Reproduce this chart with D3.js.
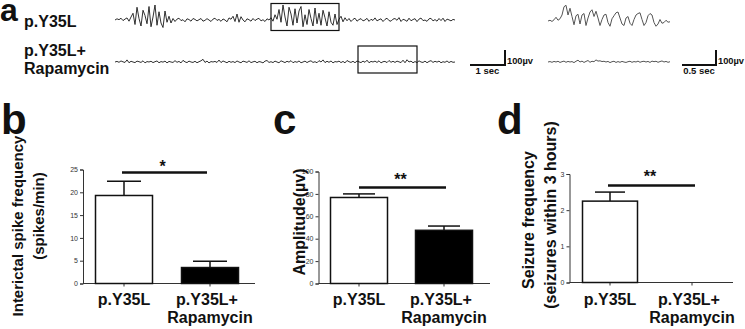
<!DOCTYPE html>
<html lang="en">
<head>
<meta charset="UTF-8">
<script src="https://cdnjs.cloudflare.com/ajax/libs/d3/7.8.5/d3.min.js"></script>
<style>
  body { margin: 0; background: #fff; }
  svg { display: block; font-family: "Liberation Sans", Arial, sans-serif; }
</style>
</head>
<body>
<svg id="fig" width="745" height="329"></svg>
<script>
// ---- panel a: EEG traces (µV) ----
const tracePY35L = [
  0, 8, 2, 12, -4, 6, 14, -8, 20, 45,
  -30, 85, 10, -40, 65, 30, -25, 90, -45, 20,
  100, -35, 55, -20, -50, 60, -15, 25, -20, 10,
  -10, 6, 12, -4, 2, -12, 8, 3, -8, 10,
  4, -6, 2, 10, -8, -2, 9, 0, -10, 6,
  12, -3, 4, -9, 7, 0, -12, 14, 5, 25,
  -10, 40, -15, 22, 0, -12, 8, 2, -8, 10,
  -4, 6, 11, -6, 2, -10, 8, 0, 15, -8,
  35, 5, 70, -15, 100, 20, -40, 85, 40, -35,
  75, -20, 60, 90, -45, 35, -30, 70, 10, -40,
  80, -25, 45, -35, 65, 15, -40, 55, -15, -35,
  40, -30, 5, 25, -12, 15, -5, 10, -10, 4,
  12, -8, 3, 9, -6, 0, 11, -9, 5, -3,
  14, -6, 2, 8, -10, 4, 12, -4, -8, 6,
  10, -2, 16, -10, 5, 0, -9, 12, -5, 3,
  9, -11, 6, 13, -4, 0, -9, 8, 11, -6,
  3, -8, 10, -4, 12, -10, 6, 1, -6, 4, 0
];
const traceRapa = [
  0, 4, -2, 7, 1, -3, 14, -5, 5, 0,
  -4, 6, 2, -3, 8, -6, 3, 0, 5, -4,
  2, 7, -5, 3, -1, 6, -6, 4, 0, -3,
  9, -2, 4, -6, 11, 1, -4, 6, 0, -3,
  5, -5, 2, 8, 18, -3, 6, -6, 3, 0,
  4, -3, 13, -4, 7, 1, -5, 5, -2, 3,
  -4, 7, 0, -5, 6, 2, -3, 8, -4, 1,
  5, -5, 3, 0, -6, 6, 10, -3, 2, -4,
  6, 0, -5, 8, 2, -4, 5, -1, 9, -5,
  3, -2, 7, -5, 0, 6, -4, 4, 8, -3,
  2, -5, 9, 0, 14, -4, 5, -2, 7, -6,
  3, 0, 6, -4, 4, -6, 10, 2, -3, 5,
  -5, 7, 1, -4, 6, -2, 12, -5, 4, 0,
  6, -3, 8, -6, 2, 4, -4, 10, -2, 5,
  -3, 6, 1, -4, 12, -5, 15, 0, 6, -5,
  3, -4, 8, 0, -3, 6, -5, 4, 9, -3,
  5, -1, 6, -5, 2, -2, 7, -4, 4, -2, 0
];
const zoomPY35L = [
  0, 5, -3, 8, 25, 5, 15, 40, 95, 105,
  40, 85, 30, -25, 35, 45, -20, 40, 50, -30,
  20, 60, 75, 30, 65, 20, -30, 10, 40, 45,
  -10, -35, 15, 35, 55, 60, 20, -20, -30, 20,
  30, -15, -30, 10, 40, 50, 55, 10, -30, -10,
  35, 50, 40, -10, -35, -20, 10, -15, -10, 5,
  -8, -5
];
const zoomRapa = [
  0, 3, -2, 4, 0, 5, -3, 2, 6, -2,
  4, 0, 3, -4, 5, 12, 0, 6, -3, 4,
  10, -2, 5, 2, 14, 6, 8, 3, 5, 0,
  4, -4, 2, 5, -3, 3, -2, 4, 0, -3,
  2, 5, -2, 3, 0, 6, -2, 3, 5, 0,
  4, -3, 6, 2, 5, -2, 3, 7, 0, 4,
  -2, 2
];
const boxPY35L = [78, 112];      // sample range shown expanded
const boxRapa = [121.5, 151];
const traceLabels = [['p.Y35L'], ['p.Y35L+', 'Rapamycin']];
const scaleBarLabels = ['1 sec', '0.5 sec'];
const scaleBarValue = '100µv';

// ---- panels b-d: bar charts ----
const categories = [['p.Y35L'], ['p.Y35L+', 'Rapamycin']];
const spikeFreq = [19.3, 3.5];
const spikeFreqErr = [3.1, 1.4];
const spikeTicks = [0, 5, 10, 15, 20, 25];
const amplitude = [76.8, 47.5];
const amplitudeErr = [3.2, 3.8];
const amplitudeTicks = [0, 20, 40, 60, 80, 100];
const seizureFreq = [2.25, 0];
const seizureFreqErr = [0.25, 0];
const seizureTicks = [0, 1, 2, 3];

const svg = d3.select('#fig');
const bold = s => s.attr('font-weight', 'bold').attr('fill', '#111');

// panel letters
svg.append('text').text('a').attr('x', 0).attr('y', 21).attr('font-size', 32).call(bold);
[['b', 1, 134], ['c', 273, 134], ['d', 497, 134]].forEach(p => {
  svg.append('text').text(p[0]).attr('x', p[1]).attr('y', p[2])
    .attr('font-size', 42).call(bold);
});

// trace labels
svg.append('text').text(traceLabels[0][0]).attr('x', 24).attr('y', 27).attr('font-size', 16).call(bold);
traceLabels[1].forEach((t, i) => {
  svg.append('text').text(t).attr('x', 24).attr('y', 56 + i * 18).attr('font-size', 16).call(bold);
});

function drawTrace(data, x0, x1, base, color, width) {
  const x = d3.scaleLinear().domain([0, data.length - 1]).range([x0, x1]);
  const y = d3.scaleLinear().domain([-100, 100]).range([base + 15, base - 15]);
  svg.append('path')
    .attr('d', d3.line().x((d, i) => x(i)).y(d => y(d))(data))
    .attr('fill', 'none').attr('stroke', color).attr('stroke-width', width)
    .attr('stroke-linejoin', 'round');
  return x;
}

const xTop = drawTrace(tracePY35L, 115, 455, 20, '#1a1a1a', 0.9);
const xBot = drawTrace(traceRapa, 115, 455, 62, '#1a1a1a', 0.9);
drawTrace(zoomPY35L, 548, 670, 21, '#555', 1);
drawTrace(zoomRapa, 548, 670, 62, '#555', 1);

svg.append('rect').attr('x', xTop(boxPY35L[0])).attr('y', 3.5)
  .attr('width', xTop(boxPY35L[1]) - xTop(boxPY35L[0])).attr('height', 27)
  .attr('fill', 'none').attr('stroke', '#111').attr('stroke-width', 1.2);
svg.append('rect').attr('x', xBot(boxRapa[0])).attr('y', 46)
  .attr('width', xBot(boxRapa[1]) - xBot(boxRapa[0])).attr('height', 27)
  .attr('fill', 'none').attr('stroke', '#111').attr('stroke-width', 1.2);

// scale bars
[[470, 505, scaleBarLabels[0]], [682, 716, scaleBarLabels[1]]].forEach(b => {
  svg.append('path').attr('d', `M${b[0]},65H${b[1]}V50`)
    .attr('fill', 'none').attr('stroke', '#111').attr('stroke-width', 2);
  svg.append('text').text(b[2]).attr('x', (b[0] + b[1]) / 2).attr('y', 73.5)
    .attr('text-anchor', 'middle').attr('font-size', 9.5).call(bold);
  svg.append('text').text(scaleBarValue).attr('x', b[1] + 2).attr('y', 64)
    .attr('font-size', 9.3).call(bold);
});

function barPanel(o) {
  const g = svg.append('g');
  const y = d3.scaleLinear().domain([0, o.ticks[o.ticks.length - 1]]).range([o.yBottom, o.yTop]);
  const x = d3.scalePoint().domain([0, 1]).range(o.centers);

  const ax = g.append('g').attr('transform', `translate(${o.axisX},0)`)
    .call(d3.axisLeft(y).tickValues(o.ticks).tickFormat(d3.format('d')).tickSize(3).tickPadding(2));
  ax.select('.domain').attr('stroke', '#333');
  ax.selectAll('.tick line').attr('stroke', '#333');
  ax.selectAll('.tick text').attr('font-size', 7).attr('fill', '#333')
    .attr('font-family', '"Liberation Sans", Arial, sans-serif');

  // x axis
  g.append('line').attr('x1', o.axisX).attr('x2', o.axisEnd)
    .attr('y1', o.yBottom).attr('y2', o.yBottom).attr('stroke', '#333');
  [0, 1].forEach(i => {
    g.append('line').attr('x1', x(i)).attr('x2', x(i))
      .attr('y1', o.yBottom).attr('y2', o.yBottom + 3).attr('stroke', '#333');
  });

  o.values.forEach((v, i) => {
    const top = y(v + o.errors[i]);
    if (o.errors[i] > 0) {
      g.append('line').attr('x1', x(i)).attr('x2', x(i)).attr('y1', y(v)).attr('y2', top)
        .attr('stroke', '#111').attr('stroke-width', 1.5);
      g.append('line').attr('x1', x(i) - o.capW / 2).attr('x2', x(i) + o.capW / 2)
        .attr('y1', top).attr('y2', top).attr('stroke', '#111').attr('stroke-width', 1.5);
    }
    if (v > 0) {
      g.append('rect').attr('x', x(i) - o.barW / 2).attr('y', y(v))
        .attr('width', o.barW).attr('height', o.yBottom - y(v))
        .attr('fill', i === 0 ? '#fff' : '#000').attr('stroke', '#111').attr('stroke-width', 1.5);
    }
  });

  // significance
  g.append('line').attr('x1', o.sig[0]).attr('x2', o.sig[1]).attr('y1', o.sig[2]).attr('y2', o.sig[2])
    .attr('stroke', '#111').attr('stroke-width', 2.5);
  g.append('text').text(o.star).attr('x', o.starPos[0]).attr('y', o.starPos[1])
    .attr('text-anchor', 'middle').attr('font-size', 16).call(bold);

  // category labels
  categories.forEach((lines, i) => {
    lines.forEach((t, j) => {
      g.append('text').text(t).attr('x', x(i) + (j === 0 && lines.length > 1 ? -3 : 0))
        .attr('y', 305 + j * 18).attr('text-anchor', 'middle')
        .attr('font-size', 16).call(bold);
    });
  });

  // y titles
  o.titles.forEach(t => {
    g.append('text').text(t[0])
      .attr('transform', `translate(${t[1]},${t[2]}) rotate(-90)`)
      .attr('text-anchor', 'middle').attr('font-size', t[3]).call(bold);
  });
}

barPanel({
  axisX: 83, axisEnd: 255, yBottom: 283.5, yTop: 169.5, ticks: spikeTicks,
  centers: [124, 210], barW: 57, capW: 34, values: spikeFreq, errors: spikeFreqErr,
  sig: [122, 207, 172.5], star: '*', starPos: [162.5, 172],
  titles: [['Interictal spike frequency', 23, 226, 15], ['(spikes/min)', 44, 216, 15]]
});
barPanel({
  axisX: 318.5, axisEnd: 490, yBottom: 283.5, yTop: 171.5, ticks: amplitudeTicks,
  centers: [359, 444], barW: 57, capW: 32, values: amplitude, errors: amplitudeErr,
  sig: [359, 446, 187.5], star: '**', starPos: [400.5, 185],
  titles: [['Amplitude(µv)', 305, 222, 16]]
});
barPanel({
  axisX: 569.5, axisEnd: 733, yBottom: 282.5, yTop: 174, ticks: seizureTicks,
  centers: [610, 692], barW: 55, capW: 30, values: seizureFreq, errors: seizureFreqErr,
  sig: [608, 695, 185.5], star: '**', starPos: [650, 182],
  titles: [['Seizure frequency', 534, 220, 16], ['(seizures within 3 hours)', 556, 215, 16]]
});
</script>
</body>
</html>
